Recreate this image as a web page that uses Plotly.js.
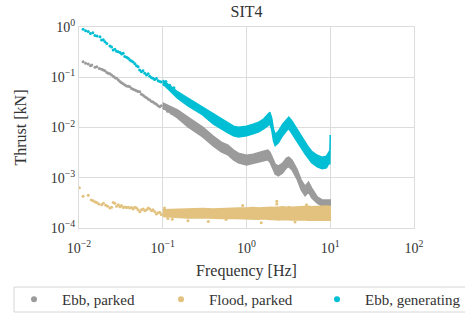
<!DOCTYPE html>
<html>
<head>
<meta charset="utf-8">
<script src="https://cdn.plot.ly/plotly-3.0.1.min.js"></script>
<style>html,body{margin:0;padding:0;background:#fff;}#chart{width:465px;height:314px;}</style>
</head>
<body>
<div id="chart"></div>
<script>
// ---- Data ----
var seriesNames = ['Ebb, parked', 'Flood, parked', 'Ebb, generating'];

// Low-frequency scattered points
var ebbParkedF = [0.0112,0.0120,0.0129,0.0137,0.0142,0.0155,0.0163,0.0175,0.0186,0.0195,0.0204,0.0215,0.0223,0.0234,0.0245,0.0258,0.0270,0.0281,0.0295,0.0308,0.0322,0.0337,0.0353,0.0370,0.0387,0.0405,0.0425,0.0443,0.0464,0.0486,0.0508,0.0532,0.0557,0.0584,0.0611,0.0640,0.0670,0.0700,0.0735,0.0766,0.0803,0.0840,0.0880,0.0920,0.0960,0.104,0.109,0.114,0.121,0.128,0.136];
var ebbParkedT = [0.204,0.19,0.184,0.17,0.175,0.158,0.162,0.15,0.144,0.14,0.135,0.125,0.12,0.118,0.111,0.104,0.098,0.095,0.088,0.082,0.078,0.074,0.070,0.067,0.066,0.065,0.060,0.058,0.056,0.054,0.052,0.0516,0.046,0.044,0.041,0.039,0.037,0.0353,0.033,0.032,0.0303,0.029,0.027,0.026,0.027,0.024,0.0255,0.021,0.0225,0.019,0.021];

var floodParkedF = [0.0101,0.0112,0.0129,0.0140,0.0148,0.0156,0.0163,0.0172,0.0186,0.0196,0.0209,0.0220,0.0234,0.0245,0.0256,0.0268,0.0281,0.0295,0.0308,0.0322,0.0337,0.0353,0.0370,0.0387,0.0405,0.0425,0.0443,0.0464,0.0486,0.0508,0.0532,0.0557,0.0584,0.0611,0.0640,0.0670,0.0700,0.0735,0.0766,0.0803,0.0840,0.0880,0.0920,0.0960];
var floodParkedT = [6.3e-4,4.3e-4,4.5e-4,3.6e-4,3.5e-4,3.3e-4,3.2e-4,3.0e-4,2.9e-4,3.1e-4,2.85e-4,2.7e-4,2.5e-4,2.6e-4,3.2e-4,3.1e-4,2.7e-4,2.9e-4,2.65e-4,2.8e-4,2.55e-4,2.62e-4,2.55e-4,2.6e-4,2.5e-4,2.55e-4,2.4e-4,2.6e-4,2.5e-4,2.3e-4,2.1e-4,2.3e-4,2.4e-4,2.2e-4,2.3e-4,2.5e-4,2.4e-4,2.2e-4,2.3e-4,2.1e-4,1.9e-4,2.0e-4,2.05e-4,1.85e-4];

var ebbGenF = [0.0112,0.0120,0.0129,0.0137,0.0146,0.0155,0.0164,0.0178,0.0186,0.0195,0.0204,0.0215,0.0234,0.0245,0.0256,0.0268,0.0281,0.0294,0.0310,0.0323,0.0337,0.0352,0.0370,0.0387,0.0405,0.0423,0.0443,0.0465,0.0486,0.0508,0.0530,0.0557,0.0580,0.0610,0.0640,0.0670,0.0700,0.0735,0.0766,0.0800,0.0840,0.0880,0.0920,0.0960,0.104,0.109,0.114,0.121,0.128,0.136];
var ebbGenT = [0.90,0.84,0.81,0.74,0.77,0.68,0.66,0.64,0.55,0.56,0.51,0.47,0.42,0.40,0.35,0.36,0.33,0.32,0.31,0.29,0.30,0.26,0.25,0.24,0.22,0.21,0.20,0.185,0.17,0.162,0.14,0.129,0.135,0.12,0.111,0.118,0.105,0.098,0.095,0.09,0.094,0.085,0.082,0.08,0.071,0.082,0.064,0.069,0.058,0.062];

// Dense high-frequency region: lower / upper envelope of the point cloud
var bandF = [0.1,0.15,0.2,0.3,0.4,0.5,0.6,0.7,0.8,1.0,1.2,1.4,1.6,1.8,1.9,2.0,2.1,2.2,2.4,2.7,3.0,3.2,3.5,4.0,4.5,5.0,5.5,6.0,7.0,8.0,9.0,9.6,9.9,10.0];
var ebbParkedHi = [0.031,0.0225,0.01608,0.01016,0.00673,0.00511,0.00445,0.00355,0.00309,0.00281,0.00295,0.00324,0.00339,0.00355,0.00324,0.00269,0.00224,0.00186,0.0017,0.00195,0.00246,0.00258,0.00224,0.00149,0.000898,0.000681,0.000818,0.000621,0.000415,0.000362,0.000362,0.000362,0.000362,0.000362];
var ebbParkedLo = [0.0245,0.0155,0.01029,0.0065,0.0043,0.00327,0.00285,0.00227,0.00198,0.0018,0.00189,0.00207,0.00217,0.00227,0.00207,0.00172,0.00143,0.00119,0.00109,0.00125,0.00158,0.00165,0.00143,0.000952,0.000574,0.000436,0.000523,0.000398,0.000314,0.000274,0.000274,0.000274,0.000274,0.000274];
var floodParkedHi = [2.3e-4,2.35e-4,2.4e-4,2.45e-4,2.4e-4,2.45e-4,2.5e-4,2.45e-4,2.5e-4,2.5e-4,2.55e-4,2.5e-4,2.55e-4,2.6e-4,2.55e-4,2.6e-4,2.55e-4,2.6e-4,2.6e-4,2.65e-4,2.6e-4,2.65e-4,2.6e-4,2.65e-4,2.7e-4,2.65e-4,2.7e-4,2.65e-4,2.7e-4,2.7e-4,2.75e-4,2.7e-4,2.7e-4,2.7e-4];
var floodParkedLo = [1.7e-4,1.62e-4,1.58e-4,1.6e-4,1.57e-4,1.55e-4,1.57e-4,1.55e-4,1.53e-4,1.55e-4,1.52e-4,1.5e-4,1.52e-4,1.5e-4,1.48e-4,1.5e-4,1.47e-4,1.48e-4,1.45e-4,1.47e-4,1.45e-4,1.46e-4,1.44e-4,1.45e-4,1.43e-4,1.45e-4,1.42e-4,1.44e-4,1.42e-4,1.4e-4,1.42e-4,1.4e-4,1.42e-4,1.42e-4];
var ebbGenHi = [0.088,0.0515,0.0386,0.0256,0.01844,0.01469,0.01221,0.01064,0.01016,0.01064,0.01166,0.01279,0.01469,0.0183,0.0201,0.01528,0.00923,0.00733,0.00841,0.0116,0.01456,0.016,0.0133,0.00923,0.00668,0.00508,0.00404,0.00337,0.0028,0.00256,0.00268,0.00321,0.0035,0.0071];
var ebbGenLo = [0.074,0.0385,0.0268,0.0178,0.0118,0.0094,0.00782,0.00681,0.0065,0.00681,0.00746,0.00818,0.0094,0.01085,0.01188,0.00904,0.00546,0.00434,0.00498,0.00686,0.00862,0.00946,0.00787,0.00546,0.00395,0.00301,0.00239,0.00199,0.00165,0.00152,0.00158,0.0019,0.0019,0.0022];

// Isolated outliers of the flood series
var floodOutF = [2.3,2.3,0.57,1.5,0.35,3.8,0.9,5.2,0.13,0.2,0.105,0.115];
var floodOutT = [3.4e-4,3.0e-4,1.48e-4,1.27e-4,1.35e-4,1.32e-4,2.8e-4,2.9e-4,1.5e-4,1.4e-4,2.5e-4,1.55e-4];

// Axis tick exponents
var xExp = [-2,-1,0,1,2];
var yExp = [-4,-3,-2,-1,0];

// ---- Styling ----
var colors = ['rgb(155,155,155)', 'rgb(226,194,126)', 'rgb(0,190,212)'];
var FONT = 'Liberation Serif, Times New Roman, serif';
var legendIds = ['legend', 'legend2', 'legend3'];
var legendLeft = [6, 153, 309];

function pow10Label(e) {
  return '10<sup>' + (e < 0 ? '\u2212' + (-e) : String(e)) + '</sup>';
}
function band(f, lo, hi) {
  return {
    x: f.concat(f.slice().reverse()),
    y: hi.concat(lo.slice().reverse())
  };
}

var traces = [];
var sparse = [[ebbParkedF, ebbParkedT], [floodParkedF, floodParkedT], [ebbGenF, ebbGenT]];
var bands = [[ebbParkedLo, ebbParkedHi], [floodParkedLo, floodParkedHi], [ebbGenLo, ebbGenHi]];

for (var i = 0; i < 3; i++) {
  var b = band(bandF, bands[i][0], bands[i][1]);
  traces.push({
    x: b.x, y: b.y, mode: 'lines', fill: 'toself', fillcolor: colors[i],
    line: {color: colors[i], width: 1.5}, showlegend: false, hoverinfo: 'skip'
  });
  traces.push({
    x: sparse[i][0], y: sparse[i][1], mode: 'markers',
    marker: {color: colors[i], size: 3}, showlegend: false
  });
  if (i === 1) {
    traces.push({
      x: floodOutF, y: floodOutT, mode: 'markers',
      marker: {color: colors[i], size: 3}, showlegend: false
    });
  }
}
// legend entries
for (var j = 0; j < 3; j++) {
  traces.push({
    x: [null], y: [null], mode: 'markers', name: seriesNames[j],
    marker: {color: colors[j], size: 6}, showlegend: true, legend: legendIds[j]
  });
}

var layout = {
  width: 465, height: 314,
  margin: {l: 79, r: 51, t: 27, b: 86},
  paper_bgcolor: '#fff', plot_bgcolor: '#fff',
  font: {family: FONT, size: 15, color: '#333'},
  title: {text: 'SIT4', x: 0.5, xref: 'paper', y: 1 - 11/314, yref: 'container', yanchor: 'middle', font: {family: FONT, size: 16, color: '#333'}},
  xaxis: {
    type: 'log', range: [-2, 2],
    tickvals: xExp.map(function(e){return Math.pow(10, e);}),
    ticktext: xExp.map(pow10Label),
    showgrid: true, gridcolor: '#dcdcdc', gridwidth: 1,
    showline: true, mirror: true, linecolor: '#dcdcdc', linewidth: 1,
    ticks: '', zeroline: false, ticklabelstandoff: 7,
    tickfont: {family: FONT, size: 14, color: '#333'},
    title: {text: 'Frequency [Hz]', font: {family: FONT, size: 16, color: '#333'}, standoff: 10}
  },
  yaxis: {
    type: 'log', range: [-4, 0],
    tickvals: yExp.map(function(e){return Math.pow(10, e);}),
    ticktext: yExp.map(pow10Label),
    showgrid: true, gridcolor: '#dcdcdc', gridwidth: 1,
    showline: true, mirror: true, linecolor: '#dcdcdc', linewidth: 1,
    ticks: '', zeroline: false,
    tickfont: {family: FONT, size: 14, color: '#333'},
    title: {text: 'Thrust [kN]', font: {family: FONT, size: 16, color: '#333'}, standoff: 20}
  },
  shapes: [{
    type: 'rect', xref: 'paper', yref: 'paper',
    x0: (14 - 79) / 335, x1: (470 - 79) / 335,
    y0: (228 - 312) / 201, y1: (228 - 287) / 201,
    line: {color: '#d6d6d6', width: 1}, fillcolor: 'rgba(0,0,0,0)', layer: 'below'
  }],
  showlegend: true
};
for (var k = 0; k < 3; k++) {
  layout[legendIds[k]] = {
    orientation: 'h', xref: 'container', yref: 'container',
    x: legendLeft[k] / 465, y: 1 - 299.5 / 314, xanchor: 'left', yanchor: 'middle',
    borderwidth: 0, bgcolor: 'rgba(0,0,0,0)',
    font: {family: FONT, size: 15, color: '#333'},
    itemwidth: 46
  };
}

Plotly.newPlot('chart', traces, layout, {displayModeBar: false, staticPlot: true});
</script>
</body>
</html>
